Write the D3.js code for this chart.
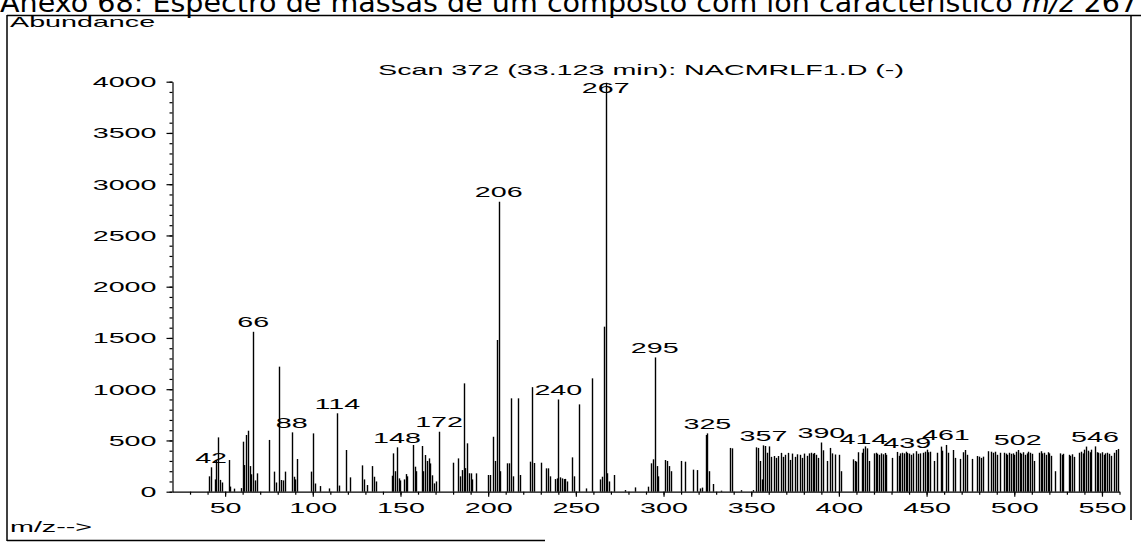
<!DOCTYPE html>
<html>
<head>
<meta charset="utf-8">
<script src="https://cdn.jsdelivr.net/npm/d3@7"></script>
<style>
  body { margin: 0; background: #fff; }
  svg { display: block; }
  .frame { stroke: #000; stroke-width: 1.5; fill: none; }
  .peak { stroke: #000; stroke-width: 1.4; }
  .axis path, .axis line { stroke: #000; stroke-width: 1.2; }
  .wide { font-family: "Liberation Sans", Arial, sans-serif; font-size: 14px; fill: #000; }
</style>
</head>
<body>
<div id="spectrum"></div>
<script>
// peaks: [m/z, abundance]
const peaks = [
  [41,150],[42,238],[44,120],[45,309],[46,530],[47,115],[48,90],[52,309],[53,50],[55,30],
  [59,35],[60,488],[61,260],[62,553],[63,595],[64,250],[65,170],[66,1560],[67,110],[68,179],
  [75,505],[78,196],[79,90],[81,1220],[82,114],[83,110],[84,196],[88,579],[89,146],[90,120],
  [91,319],[99,196],[100,569],[101,80],[104,55],[109,32],[114,765],[115,60],[119,407],[121,140],
  [128,257],[129,120],[131,65],[134,250],[135,146],[136,100],[145,156],[146,374],[147,200],[148,433],
  [149,130],[150,110],[152,120],[153,172],[154,150],[157,456],[158,244],[159,200],[162,446],[163,200],
  [164,358],[165,300],[166,325],[167,276],[168,160],[169,81],[170,100],[172,585],[180,283],[183,325],
  [184,150],[185,211],[186,1057],[187,230],[188,472],[189,180],[190,179],[191,120],[193,179],[200,163],
  [201,163],[203,536],[204,300],[205,1480],[206,2830],[207,200],[211,277],[212,277],[213,911],[214,150],
  [217,911],[218,163],[224,293],[225,1020],[226,280],[230,283],[233,228],[234,228],[235,150],[238,123],
  [239,130],[240,900],[241,140],[242,130],[243,123],[244,125],[245,100],[248,335],[249,150],[252,852],
  [256,32],[259,1106],[264,120],[265,146],[266,1610],[267,3990],[268,180],[269,100],[272,163],[278,16],
  [284,42],[291,49],[293,277],[294,316],[295,1310],[296,250],[297,150],[301,309],[302,300],[303,250],
  [304,200],[310,300],[312,293],[317,215],[319,211],[321,32],[322,40],[324,553],[325,569],[326,200],
  [328,75],[333,10],[338,427],[339,423],[344,15],[351,16],[353,433],[354,427],[355,300],[356,120],
  [357,452],[358,446],[359,380],[360,442],[361,340],[363,348],[364,330],[365,348],[367,379],[368,340],
  [369,360],[371,379],[372,310],[373,372],[375,340],[376,365],[378,360],[379,330],[380,372],[382,350],
  [383,374],[384,380],[385,370],[386,378],[387,360],[388,330],[390,480],[391,404],[393,300],[395,427],
  [396,374],[398,363],[400,360],[401,200],[408,316],[409,300],[410,293],[411,385],[413,380],[414,420],
  [415,442],[416,423],[417,300],[420,374],[421,380],[422,370],[423,360],[424,374],[425,365],[426,378],
  [427,360],[430,330],[433,388],[434,350],[435,374],[436,380],[437,374],[438,390],[439,378],[440,372],
  [441,360],[442,374],[444,395],[445,370],[446,374],[448,380],[449,390],[450,410],[451,385],[452,390],
  [454,300],[456,380],[458,440],[459,400],[461,456],[462,380],[465,407],[466,330],[469,320],[471,385],
  [472,407],[473,360],[476,320],[479,348],[480,342],[481,330],[482,342],[485,395],[487,390],[488,380],
  [489,390],[490,360],[492,380],[494,380],[495,372],[496,360],[497,380],[498,370],[499,374],[500,360],
  [501,390],[502,407],[503,380],[504,370],[505,385],[506,360],[507,374],[508,390],[509,380],[510,370],
  [511,300],[514,380],[515,395],[516,374],[517,380],[518,360],[519,385],[520,374],[521,350],[523,200],
  [526,374],[527,360],[528,370],[531,360],[532,350],[533,365],[534,340],[537,380],[538,390],[539,374],
  [540,410],[541,440],[542,400],[543,385],[544,410],[546,442],[547,385],[548,380],[549,374],[550,385],
  [551,360],[552,374],[553,380],[554,370],[555,350],[557,380],[558,407],[559,417]
];
const labelledMz = [42,66,88,114,148,172,206,240,267,295,325,357,390,414,439,461,502,546];
const xTicks = [50,100,150,200,250,300,350,400,450,500,550];
const yTicks = [0,500,1000,1500,2000,2500,3000,3500,4000];
const scanTitle = "Scan 372 (33.123 min): NACMRLF1.D (-)";

let total_width = 1141;
let total_height = 543;
let stretch = 2.05; // printout fonts are stretched sideways

var svg = d3.select("#spectrum").append("svg")
    .attr("width", total_width)
    .attr("height", total_height);

// cut-off caption above the frame
let cap = svg.append("text")
    .attr("x", 0).attr("y", 12)
    .attr("textLength", 1138).attr("lengthAdjust", "spacingAndGlyphs")
    .style("font-family", "'DejaVu Sans', Verdana, sans-serif")
    .style("font-size", "26px");
cap.append("tspan").text("Anexo 68: Espectro de massas de um composto com íon característico ");
cap.append("tspan").style("font-style", "italic").text("m/z");
cap.append("tspan").text(" 267");

// frame
svg.append("line").attr("class","frame").attr("x1",7).attr("y1",15.5).attr("x2",1141).attr("y2",15.5);
svg.append("line").attr("class","frame").attr("x1",7).attr("y1",15).attr("x2",7).attr("y2",541);
svg.append("line").attr("class","frame").attr("x1",7).attr("y1",540.5).attr("x2",545).attr("y2",540.5);
svg.append("line").attr("class","frame").attr("x1",1131).attr("y1",15).attr("x2",1131).attr("y2",520);

function wideText(x, y, str, anchor){
  return svg.append("text")
    .attr("class","wide")
    .attr("text-anchor", anchor)
    .attr("transform","translate(" + x + "," + y + ") scale(" + stretch + ",1)")
    .text(str);
}

wideText(10, 27, "Abundance", "start");
wideText(10, 532, "m/z-->", "start");

var x = d3.scaleLinear().domain([20, 560]).range([172.5, 1119.5]);
var y = d3.scaleLinear().domain([0, 4000]).range([491.7, 81.7]);

// x axis: minor then major ticks
svg.append("g").attr("class","axis")
    .attr("transform","translate(0," + y(0) + ")")
    .call(d3.axisBottom(x).tickValues(d3.range(30, 561, 10)).tickSize(3).tickSizeOuter(0).tickFormat(""));
let xAxis = svg.append("g").attr("class","axis")
    .attr("transform","translate(0," + y(0) + ")")
    .call(d3.axisBottom(x).tickValues(xTicks).tickSize(5).tickSizeOuter(0).tickFormat(d3.format("d")));
xAxis.select(".domain").remove();
xAxis.selectAll("text").attr("class","wide").attr("y", 11).attr("dy","0.71em")
    .attr("transform","scale(" + stretch + ",1)");

// y axis
svg.append("g").attr("class","axis")
    .attr("transform","translate(" + x(20) + ",0)")
    .call(d3.axisLeft(y).tickValues(d3.range(0, 4001, 100)).tickSize(3).tickSizeOuter(0).tickFormat(""));
let yAxis = svg.append("g").attr("class","axis")
    .attr("transform","translate(" + x(20) + ",0)")
    .call(d3.axisLeft(y).tickValues(yTicks).tickSize(6).tickSizeOuter(0).tickFormat(d3.format("d")));
yAxis.select(".domain").remove();
yAxis.selectAll("text").attr("class","wide").attr("x", -16 / stretch).attr("dy","0.36em")
    .attr("transform","scale(" + stretch + ",1)");

// spectrum lines
svg.append("g").selectAll("line").data(peaks).enter().append("line")
    .attr("class","peak")
    .attr("x1", d => Math.round(x(d[0])) + 0.5)
    .attr("x2", d => Math.round(x(d[0])) + 0.5)
    .attr("y1", y(0))
    .attr("y2", d => y(d[1]));

// peak labels, kept under the scan title
let peakMap = new Map(peaks);
labelledMz.forEach(function(m){
  let top = Math.max(y(peakMap.get(m)) - 4.5, 92.5);
  wideText(x(m), top, String(m), "middle");
});

wideText(641, 75, scanTitle, "middle");
</script>
</body>
</html>
